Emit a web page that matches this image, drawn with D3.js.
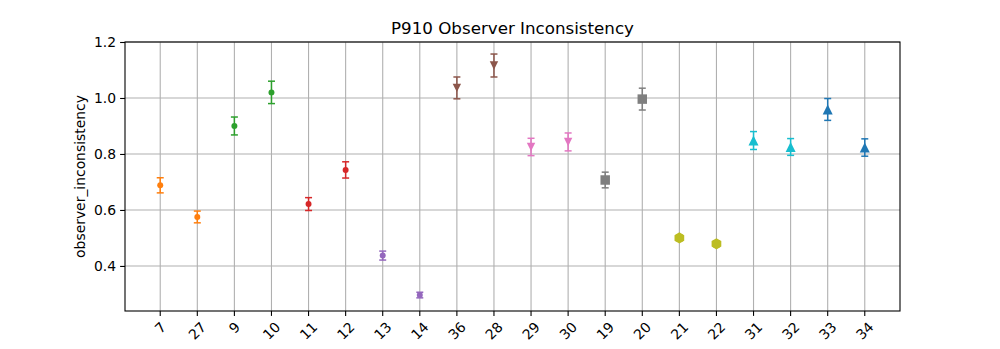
<!DOCTYPE html>
<html>
<head>
<meta charset="utf-8">
<script src="https://cdn.jsdelivr.net/npm/d3@7"></script>
<style>
  body { margin: 0; background: #fff; }
  svg { font-family: "DejaVu Sans", sans-serif; }
</style>
</head>
<body>
<div id="chart"></div>
<script>
// observers, in plotted order
const categories = ['7', '27', '9', '10', '11', '12', '13', '14', '36', '28', '29', '30', '19', '20', '21', '22', '31', '32', '33', '34'];
const values = [0.688, 0.575, 0.900, 1.020, 0.621, 0.743, 0.437, 0.296, 1.036, 1.116, 0.825, 0.843, 0.707, 0.996, 0.500, 0.479, 0.848, 0.825, 0.959, 0.823];
const errors = [0.027, 0.021, 0.032, 0.040, 0.023, 0.029, 0.016, 0.010, 0.039, 0.041, 0.031, 0.032, 0.028, 0.039, 0.010, 0.010, 0.032, 0.030, 0.039, 0.031];
// which group (colour / marker) each observer belongs to
const groups = [0, 0, 1, 1, 2, 2, 3, 3, 4, 4, 5, 5, 6, 6, 7, 7, 8, 8, 9, 9];
const yTicks = [0.4, 0.6, 0.8, 1.0, 1.2];
const yDomain = [0.239, 1.2];

const groupColors = ['#ff7f0e', '#2ca02c', '#d62728', '#9467bd', '#8c564b', '#e377c2', '#7f7f7f', '#bcbd22', '#17becf', '#1f77b4'];
const groupMarkers = ['dot', 'dot', 'dot', 'dot', 'tridown', 'tridown', 'square', 'hexagon', 'triup', 'triup'];

const width = 1000, height = 349;
const margin = { top: 42, right: 100, bottom: 38, left: 125 };
const iw = width - margin.left - margin.right;
const ih = height - margin.top - margin.bottom;

const svg = d3.select('#chart').append('svg')
  .attr('width', width)
  .attr('height', height);

const g = svg.append('g').attr('transform', `translate(${margin.left},${margin.top})`);

// categorical axis with matplotlib-like 5% margins
const n = categories.length;
const xLin = d3.scaleLinear().domain([-0.05 * (n - 1) - 0.5 * 0 - 0.0, (n - 1) + 0.05 * (n - 1)]).range([0, iw]);
const x = d => xLin(categories.indexOf(d));
const y = d3.scaleLinear().domain(yDomain).range([ih, 0]);

// grid
g.append('g').selectAll('line.vg')
  .data(categories).enter().append('line')
  .attr('x1', d => x(d)).attr('x2', d => x(d))
  .attr('y1', 0).attr('y2', ih)
  .attr('stroke', '#b0b0b0').attr('stroke-width', 1.1);
g.append('g').selectAll('line.hg')
  .data(yTicks).enter().append('line')
  .attr('x1', 0).attr('x2', iw)
  .attr('y1', d => y(d)).attr('y2', d => y(d))
  .attr('stroke', '#b0b0b0').attr('stroke-width', 1.1);

// y axis
const yAxis = g.append('g')
  .call(d3.axisLeft(y).tickValues(yTicks).tickFormat(d3.format('.1f')).tickSize(4.9).tickPadding(4))
  .call(s => s.select('.domain').remove());
yAxis.selectAll('line').attr('stroke', '#000').attr('stroke-width', 1.1);
yAxis.selectAll('text').attr('font-size', '13.9px').attr('fill', '#000').attr('font-family', '"DejaVu Sans", sans-serif');

// x axis ticks + rotated labels
const xAxis = g.append('g').attr('transform', `translate(0,${ih})`);
xAxis.selectAll('line').data(categories).enter().append('line')
  .attr('x1', d => x(d)).attr('x2', d => x(d))
  .attr('y1', 0).attr('y2', 4.9)
  .attr('stroke', '#000').attr('stroke-width', 1.1);
xAxis.selectAll('text').data(categories).enter().append('text')
  .text(d => d)
  .attr('font-size', '13.9px')
  .attr('text-anchor', 'middle')
  .attr('dominant-baseline', 'central')
  .each(function (d) {
    const w = this.getComputedTextLength();
    const h = 10.5;
    const half = (w + h) * Math.SQRT1_2 / 2;
    d3.select(this).attr('transform', `translate(${x(d)},${9.8 + half}) rotate(-45)`);
  });

// frame
g.append('rect')
  .attr('width', iw).attr('height', ih)
  .attr('fill', 'none').attr('stroke', '#000').attr('stroke-width', 1.1);

// error bars
const eb = g.append('g').selectAll('g')
  .data(categories).enter().append('g')
  .attr('stroke', (d, i) => groupColors[groups[i]])
  .attr('stroke-width', 1.5);
eb.append('line')
  .attr('x1', d => x(d)).attr('x2', d => x(d))
  .attr('y1', (d, i) => y(values[i] - errors[i]))
  .attr('y2', (d, i) => y(values[i] + errors[i]));
[-1, 1].forEach(sign => {
  eb.append('line')
    .attr('x1', d => x(d) - 3.5).attr('x2', d => x(d) + 3.5)
    .attr('y1', (d, i) => y(values[i] + sign * errors[i]))
    .attr('y2', (d, i) => y(values[i] + sign * errors[i]));
});

// markers
function markerPath(type) {
  if (type === 'dot') return d3.symbol(d3.symbolCircle, 28)();
  if (type === 'square') return d3.symbol(d3.symbolSquare, 90)();
  if (type === 'triup' || type === 'tridown') {
    const s = type === 'triup' ? 1 : -1;
    const r = type === 'triup' ? 5 : 4.2;
    return `M0,${-r * s}L${r},${r * s}L${-r},${r * s}Z`;
  }
  if (type === 'hexagon') {
    const r = 5.6;
    const pts = d3.range(6).map(k => {
      const a = Math.PI / 2 + k * Math.PI / 3;
      return [r * Math.cos(a), r * Math.sin(a)];
    });
    return d3.line()(pts) + 'Z';
  }
}

g.append('g').selectAll('path')
  .data(categories).enter().append('path')
  .attr('d', (d, i) => markerPath(groupMarkers[groups[i]]))
  .attr('transform', (d, i) => `translate(${x(d)},${y(values[i])})`)
  .attr('fill', (d, i) => groupColors[groups[i]]);

// title and label
svg.append('text')
  .attr('x', margin.left + iw / 2).attr('y', margin.top - 8)
  .attr('text-anchor', 'middle')
  .attr('font-size', '16.7px')
  .text('P910 Observer Inconsistency');

svg.append('text')
  .attr('transform', `translate(80,${margin.top + ih / 2}) rotate(-90)`)
  .attr('text-anchor', 'middle')
  .attr('dominant-baseline', 'central')
  .attr('font-size', '13.9px')
  .text('observer_inconsistency');
</script>
</body>
</html>
